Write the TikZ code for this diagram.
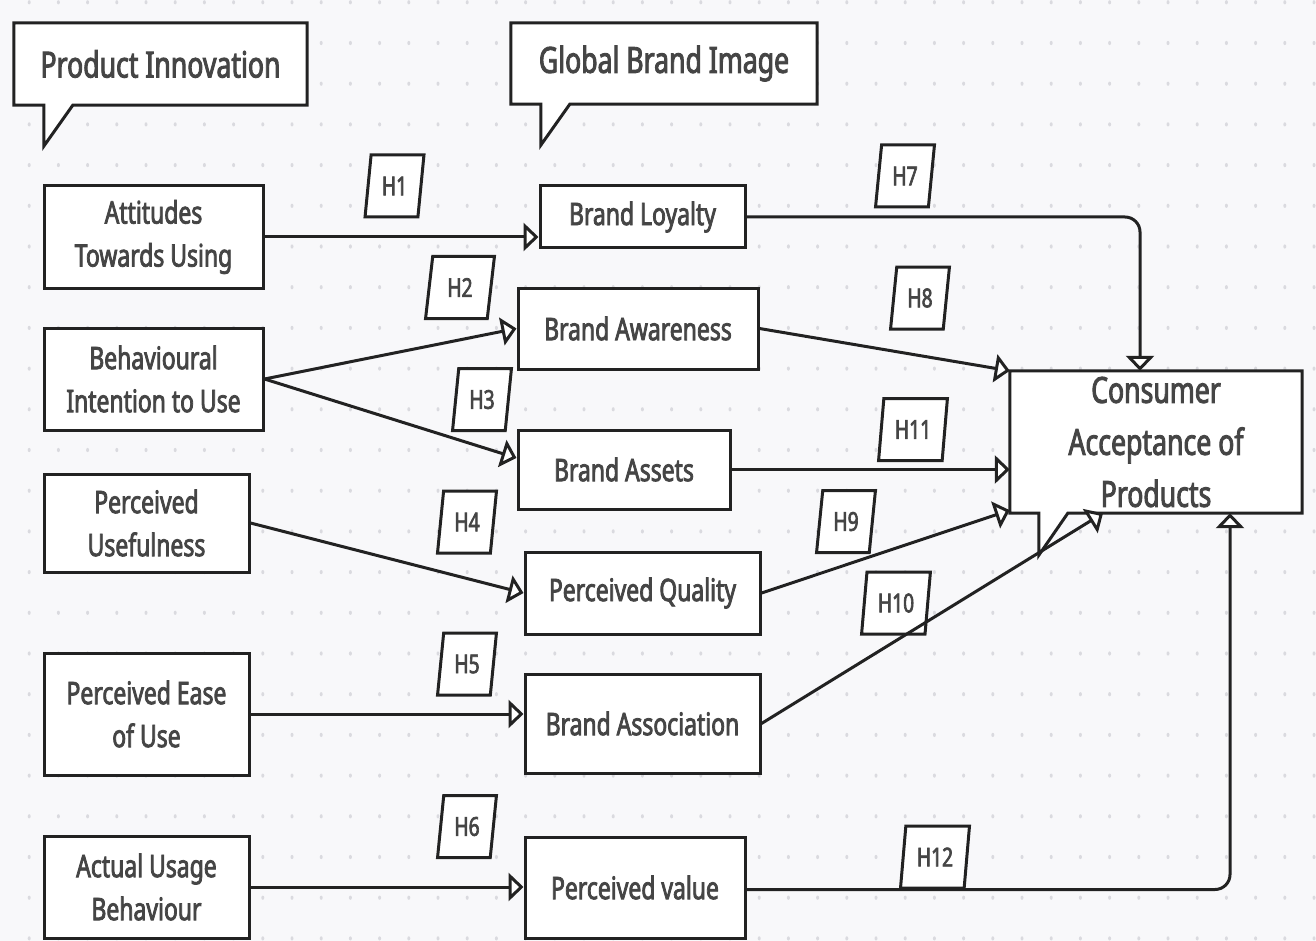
\documentclass[tikz,border=0pt]{standalone}
\usepackage{fontspec}
\setmainfont{Noto Sans}[FakeStretch=0.74, FakeBold=2.5]
\usetikzlibrary{arrows.meta,shapes.geometric,calc}
\pgfdeclarelayer{dots}
\pgfdeclarelayer{back}
\pgfsetlayers{dots,back,main}
\definecolor{bgc}{HTML}{F8F8FA}
\definecolor{dotc}{HTML}{DADADF}
\definecolor{txt}{HTML}{454545}
\definecolor{ln}{HTML}{222222}
\begin{document}
\begin{tikzpicture}[x=1pt,y=-1pt,
  box/.style={draw=ln, line width=3pt, fill=white, text=txt, align=center, inner sep=0pt,
              font=\fontsize{31}{43}\selectfont},
  calltext/.style={text=txt, align=center, inner sep=0pt, font=\fontsize{36}{52}\selectfont},
  outline/.style={draw=ln, line width=3pt, fill=white, line join=miter},
  hyp/.style={trapezium, trapezium left angle=80, trapezium right angle=100,
              trapezium stretches=true, draw=ln, line width=3pt, fill=white, text=txt,
              inner sep=0pt, minimum width=59pt, minimum height=62pt,
              font=\fontsize{26}{30}\selectfont},
  hypw/.style={hyp, minimum width=69pt},
  arr/.style={draw=ln, line width=3pt,
              -{Triangle[open, length=15pt, width=28pt, line width=3pt, fill=white]}}
]
\useasboundingbox (0,0) rectangle (1316,941);
\begin{pgfonlayer}{dots}
\fill[bgc] (0,0) rectangle (1316,941);
\foreach \i in {1,...,45}{
  \foreach \j in {0,...,23}{
    \fill[dotc] (\i*29.2, 2.3+\j*40.7) ellipse [x radius=1.5pt, y radius=2.1pt];
  }
}
\end{pgfonlayer}

% callouts
\node[calltext, minimum width=293pt, minimum height=82pt] (PI) at (160.5,64) {Product Innovation};
\node[calltext, minimum width=306pt, minimum height=81pt] (GBI) at (664,63.5) {Global Brand Image};
\node[calltext, minimum width=292pt, minimum height=142pt] (C) at (1156,442) {Consumer\\Acceptance of\\Products};
\begin{pgfonlayer}{back}
\draw[outline] (PI.north west) -- (PI.north east) -- (PI.south east)
  -- ($(PI.south west)+(59,0)$) -- ($(PI.south west)+(30,41)$) -- ($(PI.south west)+(30,0)$)
  -- (PI.south west) -- cycle;
\draw[outline] (GBI.north west) -- (GBI.north east) -- (GBI.south east)
  -- ($(GBI.south west)+(59,0)$) -- ($(GBI.south west)+(30,41)$) -- ($(GBI.south west)+(30,0)$)
  -- (GBI.south west) -- cycle;
\draw[outline] (C.north west) -- (C.north east) -- (C.south east)
  -- ($(C.south west)+(58,0)$) -- ($(C.south west)+(29,42)$) -- ($(C.south west)+(29,0)$)
  -- (C.south west) -- cycle;
\end{pgfonlayer}

% left column
\node[box, minimum width=219pt, minimum height=102pt] (ATU) at (153.5,237) {Attitudes\\Towards Using};
\node[box, minimum width=219pt, minimum height=102pt] (BIU) at (153.5,379) {Behavioural\\Intention to Use};
\node[box, minimum width=205pt, minimum height=98pt] (PU) at (146.5,523) {Perceived\\Usefulness};
\node[box, minimum width=205pt, minimum height=122pt] (PEU) at (146.5,714) {Perceived Ease\\of Use};
\node[box, minimum width=205pt, minimum height=102pt] (AUB) at (146.5,887) {Actual Usage\\Behaviour};

% middle column
\node[box, minimum width=205pt, minimum height=62pt] (BL) at (642.5,217) {Brand Loyalty};
\node[box, minimum width=240pt, minimum height=81pt] (BAw) at (638,328.5) {Brand Awareness};
\node[box, minimum width=212pt, minimum height=79pt] (BAs) at (624,469.5) {Brand Assets};
\node[box, minimum width=235pt, minimum height=82pt] (PQ) at (642.5,593) {Perceived Quality};
\node[box, minimum width=235pt, minimum height=99pt] (BAsn) at (642.5,723.5) {Brand Association};
\node[box, minimum width=220pt, minimum height=101pt] (PV) at (635,887.5) {Perceived value};

% hypothesis labels
\node[hyp]  (H1)  at (394.5,186) {H1};
\node[hypw] (H2)  at (460,287.5) {H2};
\node[hyp]  (H3)  at (482,399.5) {H3};
\node[hyp]  (H4)  at (467,522) {H4};
\node[hyp]  (H5)  at (467,664) {H5};
\node[hyp]  (H6)  at (467,826.5) {H6};
\node[hyp]  (H7)  at (905,176) {H7};
\node[hyp]  (H8)  at (920,298) {H8};
\node[hyp]  (H9)  at (846,521.5) {H9};
\node[hypw] (H10) at (896,603) {H10};
\node[hypw] (H11) at (913,429.5) {H11};
\node[hypw] (H12) at (935,857) {H12};

% connectors
\draw[arr] (ATU.east) -- (BL.west |- ATU.east);
\draw[arr] (BIU.east) -- (BAw.west);
\draw[arr] (BIU.east) -- ([yshift=11.5pt]BAs.west);
\draw[arr] (PU.east) -- (PQ.west);
\draw[arr] (PEU.east) -- (BAsn.west |- PEU.east);
\draw[arr] (AUB.east) -- (PV.west |- AUB.east);

\draw[arr, rounded corners=15pt] (BL.east) -| ([xshift=-16pt]C.north);
\draw[arr] (BAw.east) -- (C.north west);
\draw[arr] (BAs.east) -- (C.west |- BAs.east);
\draw[arr] (PQ.east) -- ([yshift=3pt]C.south west);
\draw[arr] (BAsn.east) -- ([xshift=-53pt]C.south);
\draw[arr, rounded corners=15pt] ([yshift=-2pt]PV.east) -| ([xshift=74pt]C.south);
\end{tikzpicture}
\end{document}
